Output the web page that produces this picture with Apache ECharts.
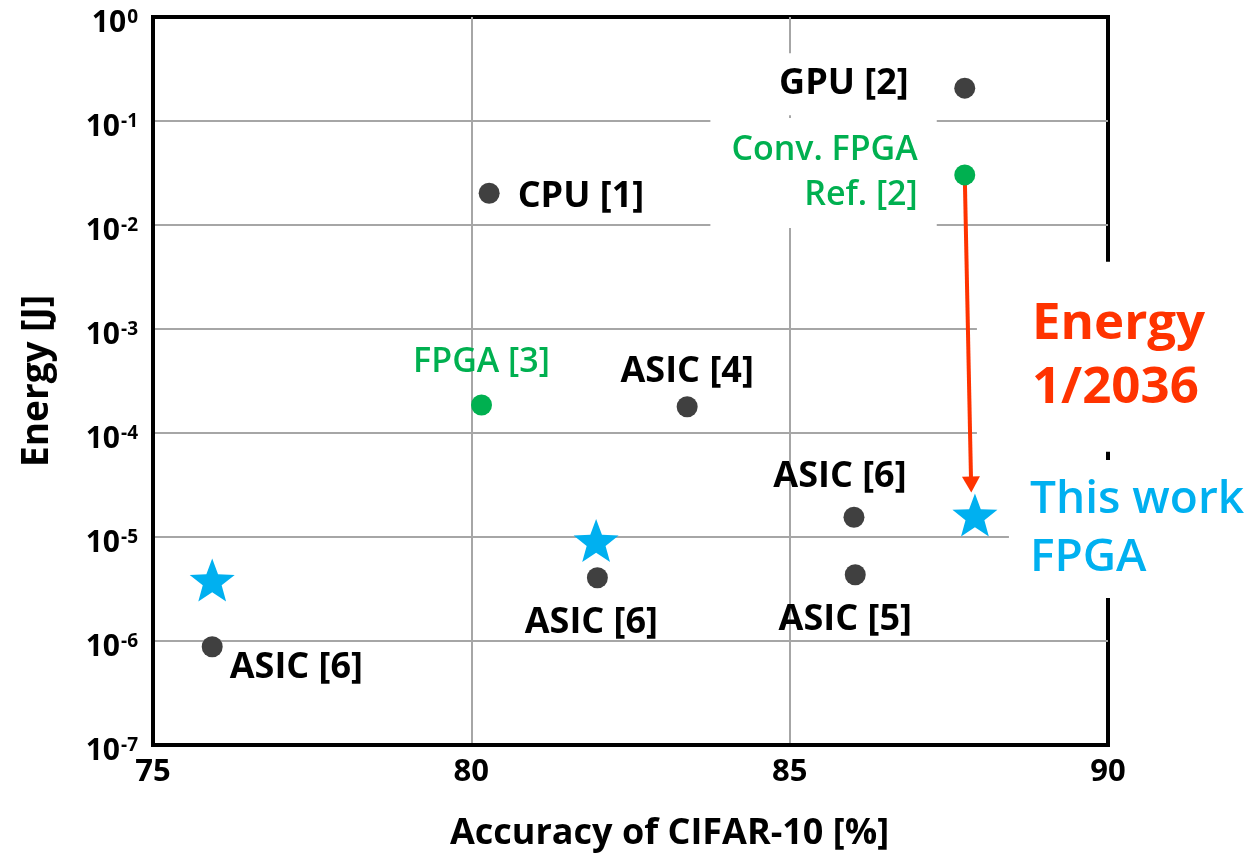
<!DOCTYPE html>
<html><head><meta charset="utf-8">
<script src="https://cdn.jsdelivr.net/npm/echarts@6/dist/echarts.min.js"></script>
<style>html,body{margin:0;padding:0;background:#fff}#c{width:1255px;height:859px}</style>
</head><body><div id="c"></div>
<script>
// ---- data ----
const grayNames = ['GPU [2]', 'CPU [1]', 'ASIC [4]', 'ASIC [6]', 'ASIC [5]', 'ASIC [6]', 'ASIC [6]'];
const grayAccuracy = [87.75, 80.28, 83.39, 86.01, 86.03, 81.98, 75.93];
const grayEnergy = [0.207, 0.0202, 1.79e-4, 1.55e-5, 4.34e-6, 4.06e-6, 8.8e-7];

const fpgaNames = ['Conv. FPGA\nRef. [2]', 'FPGA [3]'];
const fpgaAccuracy = [87.75, 80.16];
const fpgaEnergy = [0.0303, 1.86e-4];

const thisWorkNames = ['This work\nFPGA', '', ''];
const thisWorkAccuracy = [87.91, 81.96, 75.93];
const thisWorkEnergy = [1.63e-5, 9.25e-6, 3.86e-6];

const arrowStart = [87.75, 0.0303];
const arrowEnd = [87.85, 3.2e-5];
const arrowText = 'Energy\n1/2036';

const xTicks = [75, 80, 85, 90];
const yMin = 1e-7, yMax = 1;

// ---- styles ----
const FONT = 'Open Sans';
const BLACK_LABEL = {color: '#000', fontFamily: FONT, fontWeight: 'bold', fontSize: 36, lineHeight: 40};
const GREEN_LABEL = {color: '#00B050', fontFamily: FONT, fontWeight: 600, fontSize: 34, lineHeight: 45};

const grayLabelStyle = [
  {position: 'left', distance: 17.5, padding: [15, 28, 7, 71], offset: [0, -4], backgroundColor: '#fff'},
  {position: 'right', distance: 18, offset: [0, 4]},
  {position: 'top', distance: 4},
  {position: 'top', distance: 9.5, offset: [-14, 0]},
  {position: 'bottom', distance: 15, offset: [-10, 0]},
  {position: 'bottom', distance: 15, offset: [-6, 0]},
  {position: 'right', distance: 7, offset: [0, 21]}
];
const fpgaLabelStyle = [
  {position: 'left', distance: 17.5, padding: [12, 19, 8, 21], offset: [0, -2], backgroundColor: '#fff', align: 'right'},
  {position: 'top', distance: 9.5}
];
const thisWorkLabelStyle = [
  {show: true, position: 'right', distance: 11.5, padding: [13, 30, 9, 21], offset: [0, 14], backgroundColor: '#fff',
   color: '#00B0F0', fontFamily: FONT, fontWeight: 600, fontSize: 46, lineHeight: 58, align: 'left'},
  {show: false},
  {show: false}
];

const STAR = 'path://M50,0 L62.34,33.01 L97.55,34.55 L69.97,56.49 L79.39,90.45 L50,71 L20.61,90.45 L30.03,56.49 L2.45,34.55 L37.66,33.01 Z';

function build(names, xs, ys, base, styles) {
  return xs.map((x, i) => ({
    value: [x, ys[i]],
    name: names[i],
    label: Object.assign({show: true, formatter: names[i]}, base, styles[i])
  }));
}

const midPoint = [(arrowStart[0] + arrowEnd[0]) / 2, Math.sqrt(arrowStart[1] * arrowEnd[1])];

const chart = echarts.init(document.getElementById('c'), null, {renderer: 'canvas'});
chart.setOption({
  animation: false,
  backgroundColor: '#fff',
  grid: {left: 153, right: 147, top: 17, bottom: 114, show: true, borderColor: '#000', borderWidth: 4, backgroundColor: 'transparent'},
  xAxis: {
    type: 'value', min: xTicks[0], max: xTicks[xTicks.length - 1], interval: xTicks[1] - xTicks[0],
    axisLine: {show: true, lineStyle: {color: '#000', width: 4}},
    axisTick: {show: false},
    splitLine: {show: true, showMinLine: false, showMaxLine: false, lineStyle: {color: '#A6A6A6', width: 2}},
    axisLabel: {margin: 12, color: '#000', fontFamily: FONT, fontWeight: 'bold', fontSize: 31},
    name: 'Accuracy of CIFAR-10 [%]', nameLocation: 'middle', nameGap: 71,
    nameTextStyle: {color: '#000', fontFamily: FONT, fontWeight: 'bold', fontSize: 36, padding: [0, 0, 0, 78]}
  },
  yAxis: {
    type: 'log', logBase: 10, min: yMin, max: yMax,
    axisLine: {show: true, lineStyle: {color: '#000', width: 4}},
    axisTick: {show: false},
    splitLine: {show: true, showMinLine: false, showMaxLine: false, lineStyle: {color: '#A6A6A6', width: 2}},
    axisLabel: {
      margin: 15,
      formatter: v => '{b|10}{s|' + Math.round(Math.log10(v)) + '}',
      rich: {
        b: {color: '#000', fontFamily: FONT, fontWeight: 'bold', fontSize: 30, padding: [12, 0, 0, 0]},
        s: {color: '#000', fontFamily: FONT, fontWeight: 'bold', fontSize: 19, padding: [2, 0, 0, 1]}
      }
    },
    name: 'Energy [J]', nameLocation: 'middle', nameGap: 97,
    nameTextStyle: {color: '#000', fontFamily: FONT, fontWeight: 'bold', fontSize: 37}
  },
  series: [
    {
      type: 'scatter', name: 'arrow', data: [], z: 1, silent: true,
      markLine: {
        z: 1, silent: true, symbol: ['none', 'triangle'], symbolSize: [18, 16],
        label: {show: false},
        lineStyle: {color: '#FF3300', width: 4, type: 'solid'},
        emphasis: {disabled: true},
        data: [[{coord: arrowStart}, {coord: arrowEnd}]]
      },
      markPoint: {
        z: 4, silent: true, symbol: 'circle', symbolSize: 0,
        data: [{coord: midPoint, value: 0,
          label: {show: true, formatter: arrowText, position: 'right', distance: 9, offset: [0, 27],
            padding: [12, 20, 50, 55], backgroundColor: '#fff', align: 'left',
            color: '#FF3300', fontFamily: FONT, fontWeight: 'bold', fontSize: 51, lineHeight: 64}}]
      }
    },
    {
      type: 'scatter', name: 'others', z: 2, silent: true,
      symbol: 'circle', symbolSize: 21, itemStyle: {color: '#404040', opacity: 1},
      data: build(grayNames, grayAccuracy, grayEnergy, BLACK_LABEL, grayLabelStyle)
    },
    {
      type: 'scatter', name: 'fpga', z: 3, silent: true,
      symbol: 'circle', symbolSize: 21, itemStyle: {color: '#00B050', opacity: 1},
      data: build(fpgaNames, fpgaAccuracy, fpgaEnergy, GREEN_LABEL, fpgaLabelStyle)
    },
    {
      type: 'scatter', name: 'this work', z: 3, silent: true,
      symbol: STAR, symbolSize: [45, 43], itemStyle: {color: '#00B0F0', opacity: 1},
      data: build(thisWorkNames, thisWorkAccuracy, thisWorkEnergy, {}, thisWorkLabelStyle)
    }
  ]
});
</script>
</body></html>
